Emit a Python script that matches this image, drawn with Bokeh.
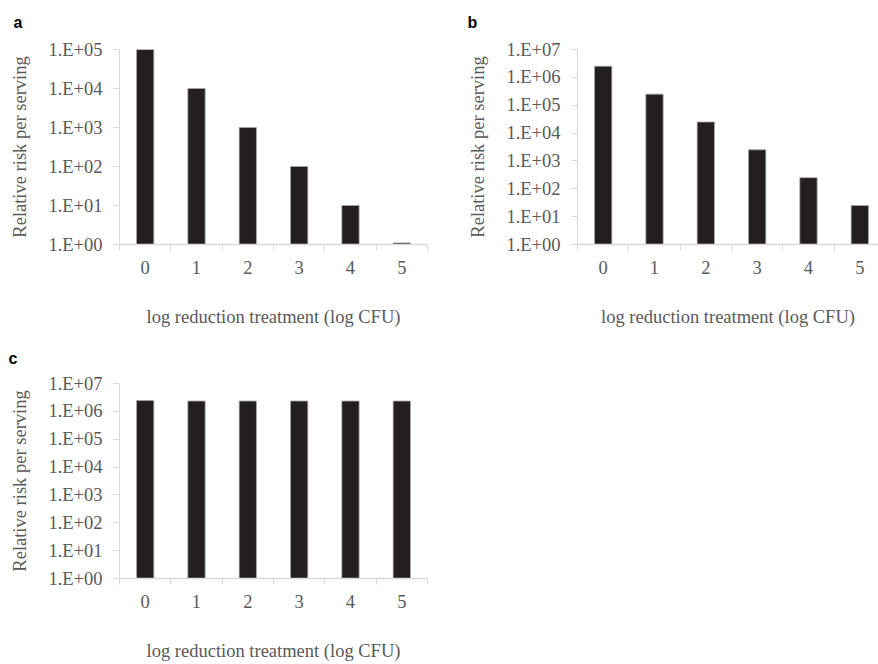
from bokeh.plotting import figure
from bokeh.models import FixedTicker, CustomJSTickFormatter, Range1d, Title
from bokeh.layouts import column, row
from bokeh.embed import file_html
from bokeh.resources import INLINE

categories = ["0", "1", "2", "3", "4", "5"]
risk_a = [1.0e5, 1.0e4, 1.0e3, 1.0e2, 1.0e1, 1.1]
risk_b = [2.5e6, 2.5e5, 2.5e4, 2.5e3, 2.5e2, 2.5e1]
risk_c = [2.45e6, 2.35e6, 2.35e6, 2.35e6, 2.35e6, 2.35e6]
y_ticks_a = [1e0, 1e1, 1e2, 1e3, 1e4, 1e5]
y_ticks_bc = [1e0, 1e1, 1e2, 1e3, 1e4, 1e5, 1e6, 1e7]
x_label = "log reduction treatment (log CFU)"
y_label = "Relative risk per serving"
panel_letters = ["a", "b", "c"]

SERIF = "'Liberation Serif'"
GRAY_TXT = "#595959"
AXIS_CLR = "#d9d9d9"
BAR_CLR = "#231f20"
FS = "18.5px"
CAT_PX = 51.33


def make_panel(values, y_ticks, letter, frame_w, left, right, top, bottom,
               letter_off, letter_standoff):
    n = len(categories)
    x_end = frame_w / CAT_PX
    p = figure(frame_width=frame_w, frame_height=195,
               min_border_left=left, min_border_right=right,
               min_border_top=top, min_border_bottom=bottom,
               y_axis_type="log", output_backend="svg",
               toolbar_location=None,
               x_range=Range1d(0, x_end),
               y_range=Range1d(y_ticks[0], y_ticks[-1]))
    p.outline_line_color = None
    p.xgrid.visible = False
    p.ygrid.visible = False
    p.background_fill_color = "white"
    p.border_fill_color = "white"

    xs = [i + 0.5 for i in range(n)]
    p.vbar(x=xs, top=values, bottom=y_ticks[0], width=0.337,
           fill_color=BAR_CLR, line_color="#a6a6a6", line_width=0.8)

    xa = p.xaxis[0]
    xa.ticker = FixedTicker(ticks=xs, minor_ticks=list(range(n + 1)))
    xa.formatter = CustomJSTickFormatter(args=dict(cats=categories),
                                         code="return cats[Math.floor(tick)];")
    xa.major_tick_out = 0
    xa.major_tick_in = 0
    xa.minor_tick_out = 6
    xa.minor_tick_in = 0
    xa.minor_tick_line_color = AXIS_CLR
    xa.axis_line_color = AXIS_CLR
    xa.axis_line_width = 1.5
    xa.major_label_text_font = SERIF
    xa.major_label_text_font_size = FS
    xa.major_label_text_color = GRAY_TXT
    xa.major_label_standoff = 10
    xa.axis_label = x_label
    xa.axis_label_text_font = SERIF
    xa.axis_label_text_font_size = FS
    xa.axis_label_text_font_style = "normal"
    xa.axis_label_text_color = GRAY_TXT
    xa.axis_label_standoff = 30

    ya = p.yaxis[0]
    ya.ticker = FixedTicker(ticks=y_ticks, minor_ticks=[])
    ya.formatter = CustomJSTickFormatter(
        code="return '1.E+' + String(Math.round(Math.log10(tick))).padStart(2, '0');")
    ya.major_tick_out = 6
    ya.major_tick_in = 0
    ya.minor_tick_out = 0
    ya.minor_tick_in = 0
    ya.major_tick_line_color = AXIS_CLR
    ya.axis_line_color = AXIS_CLR
    ya.axis_line_width = 1
    ya.major_label_text_font = SERIF
    ya.major_label_text_font_size = FS
    ya.major_label_text_color = GRAY_TXT
    ya.major_label_standoff = 11
    ya.axis_label = y_label
    ya.axis_label_text_font = SERIF
    ya.axis_label_text_font_size = FS
    ya.axis_label_text_font_style = "normal"
    ya.axis_label_text_color = GRAY_TXT
    ya.axis_label_standoff = 15

    # panel letter: a second (blank) line lifts the letter into the top margin
    p.add_layout(Title(text=letter + "\n ", align="left", offset=letter_off,
                       standoff=letter_standoff,
                       text_font="'Liberation Sans'", text_font_style="bold",
                       text_font_size="16px", text_color="#000000"), "above")
    return p


pa = make_panel(risk_a, y_ticks_a, panel_letters[0], 308, 119, 13, 49, 96,
                13 - 119, 3)
pb = make_panel(risk_b, y_ticks_bc, panel_letters[1], 301, 137, 0, 49, 96,
                467 - 577, 3)
pc = make_panel(risk_c, y_ticks_bc, panel_letters[2], 308, 119, 13, 43, 86,
                8 - 119, -1)

layout = column(row(pa, pb), pc)
open("out.html", "w").write(file_html(layout, INLINE))
